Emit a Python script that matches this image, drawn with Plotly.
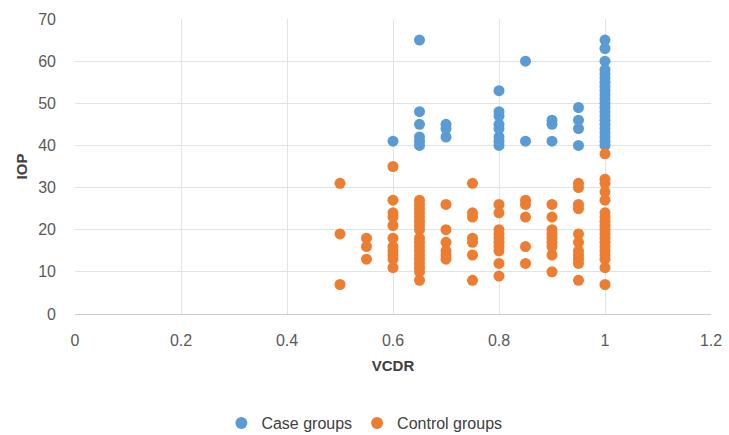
import plotly.graph_objects as go

# Case groups (VCDR, IOP)
case_vcdr = ([0.6] + [0.65]*6 + [0.7]*3 + [0.8]*8 + [0.85]*2 + [0.9]*3 + [0.95]*4 + [1.0]*22)
case_iop = ([41] +
            [65, 48, 45, 42, 41, 40] +
            [45, 44, 42] +
            [53, 48, 47, 45, 44, 42, 41, 40] +
            [60, 41] +
            [46, 45, 41] +
            [49, 46, 44, 40] +
            [65, 63, 60, 58, 57, 56, 55, 54, 53, 52, 51, 50, 49, 48, 47, 46, 45, 44, 43, 42, 41, 40])

# Control groups (VCDR, IOP)
ctrl_05 = [31, 19, 7]
ctrl_055 = [18, 16, 13]
ctrl_06 = [35, 27, 24, 23, 21, 18, 16, 15, 14, 13, 11]
ctrl_065 = [27, 26, 25, 24, 23, 22, 21, 20, 18, 17, 16, 15, 14, 13, 12, 11, 10, 8]
ctrl_07 = [26, 20, 17, 15, 14, 13]
ctrl_075 = [31, 24, 23, 18, 17, 14, 8]
ctrl_08 = [26, 24, 20, 19, 18, 17, 16, 15, 12, 9]
ctrl_085 = [27, 26, 23, 16, 12]
ctrl_09 = [26, 23, 20, 19, 18, 17, 16, 14, 10]
ctrl_095 = [31, 30, 26, 25, 19, 17, 15, 14, 13, 12, 8]
ctrl_10 = [38, 32, 31, 29, 27, 24, 23, 22, 21, 20, 19, 18, 17, 16, 15, 14, 13, 11, 7]

ctrl_groups = [(0.5, ctrl_05), (0.55, ctrl_055), (0.6, ctrl_06), (0.65, ctrl_065),
               (0.7, ctrl_07), (0.75, ctrl_075), (0.8, ctrl_08), (0.85, ctrl_085),
               (0.9, ctrl_09), (0.95, ctrl_095), (1.0, ctrl_10)]
ctrl_vcdr = [v for v, ys in ctrl_groups for _ in ys]
ctrl_iop = [y for v, ys in ctrl_groups for y in ys]

x_ticks = [0, 0.2, 0.4, 0.6, 0.8, 1, 1.2]
x_tick_labels = ["0", "0.2", "0.4", "0.6", "0.8", "1", "1.2"]
y_ticks = [0, 10, 20, 30, 40, 50, 60, 70]

fig = go.Figure()
fig.add_trace(go.Scatter(x=case_vcdr, y=case_iop, mode="markers", name="Case groups",
                         marker=dict(color="#5B9BD5", size=11)))
fig.add_trace(go.Scatter(x=ctrl_vcdr, y=ctrl_iop, mode="markers", name="Control groups",
                         marker=dict(color="#ED7D31", size=11)))

font_fam = "Liberation Sans, Arial, sans-serif"
fig.update_layout(
    width=729, height=435,
    margin=dict(l=75, r=18, t=19, b=121, autoexpand=False),
    paper_bgcolor="white", plot_bgcolor="white",
    font=dict(family=font_fam, color="#595959", size=16),
    legend=dict(orientation="h", x=0.455, xanchor="center",
                y=-0.37, yanchor="middle",
                font=dict(size=16, color="#404040"), itemsizing="constant"),
    xaxis=dict(range=[0, 1.2], tickvals=x_ticks, ticktext=x_tick_labels,
               showgrid=True, gridcolor="#DFE3EA", gridwidth=1, zeroline=False,
               showline=True, linecolor="#C5CEDC", linewidth=1,
               ticks="", ticklabelstandoff=12, automargin=False,
               tickfont=dict(size=16, color="#595959"),
               title=dict(text="<b>VCDR</b>", font=dict(size=15, color="#404040"), standoff=12)),
    yaxis=dict(range=[0, 70], tickvals=y_ticks,
               showgrid=True, gridcolor="#DFE3EA", gridwidth=1, zeroline=False,
               showline=False, ticks="", ticklabelstandoff=18, automargin=False,
               tickfont=dict(size=16, color="#595959"),
               title=dict(text="<b>IOP</b>", font=dict(size=15, color="#404040"), standoff=6)),
)
fig.write_html("out.html", config={"displayModeBar": False},
               post_script="document.body.style.margin='0';document.body.style.overflow='hidden';")
